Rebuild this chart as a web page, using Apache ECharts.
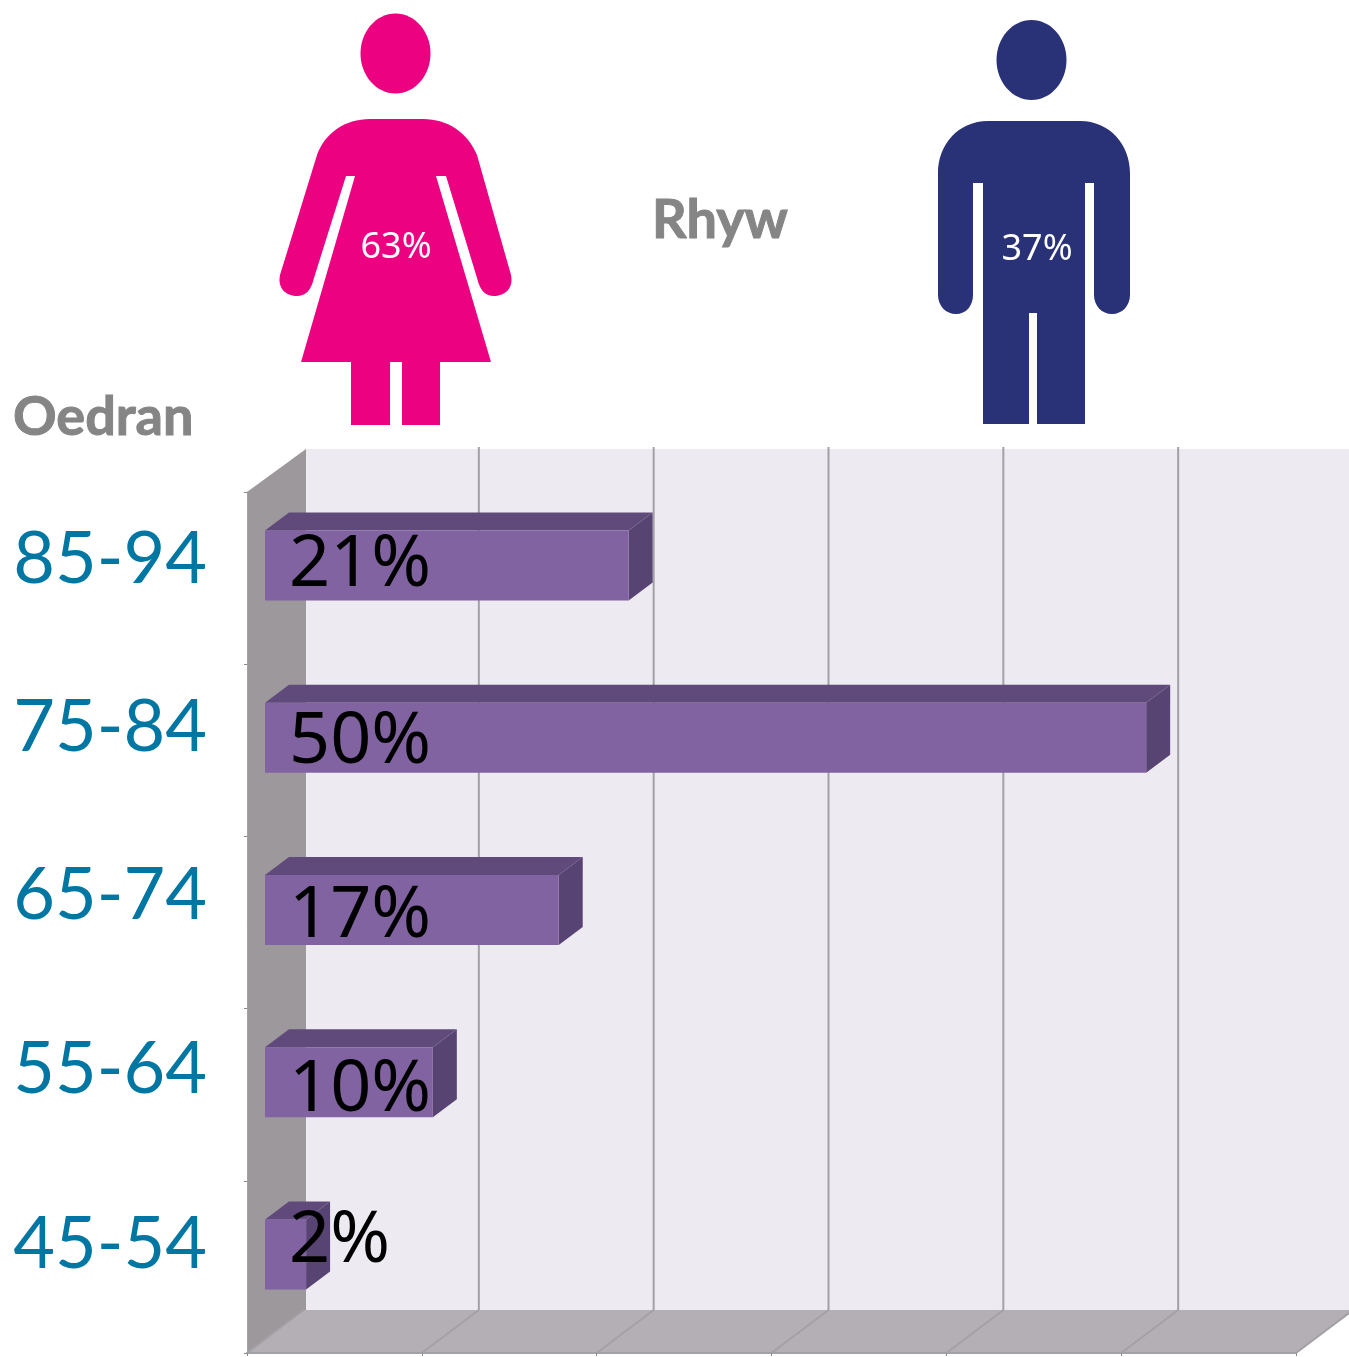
<!DOCTYPE html>
<html>
<head>
<meta charset="utf-8">
<script src="https://cdn.jsdelivr.net/npm/echarts@6/dist/echarts.min.js"></script>
<style>
  html, body { margin: 0; padding: 0; background: #fff; }
  #chart { width: 1349px; height: 1357px; }
</style>
</head>
<body>
<div id="chart"></div>
<script>
// bottom row first, the category axis runs upwards
const ageBands = ['45-54', '55-64', '65-74', '75-84', '85-94']
// bar lengths as measured on the picture, the printed labels are rounded
const barValues = [2.35, 9.6, 16.8, 50.4, 20.8]
const barLabels = ['2%', '10%', '17%', '50%', '21%']
const tickValues = [0, 10, 20, 30, 40, 50, 60]
const genderLabels = ['63%', '37%']

// 3d look of the old chart
const depthX = 59
const depthY = 43
const gridDepthX = 57
const barStartX = 18
const barStartY = 12.5
const barDepthX = 24
const barDepthY = 18
const barHeight = 70
const labelNudge = [-13, 8, 6, 5, 0]
const bandLabelLift = [22, 25, 27, 23, 18]
const font = '"Noto Sans"'

const womanPath = 'M370 119 L423 119 C448 119 468 133 477 155 L511 275 C514 290 503 296 494 296 C486 296 480 291 477 278 ' +
  'L446 176 L436 176 L491 362 L440 362 L440 425 L402 425 L402 362 L390 362 L390 425 L351 425 L351 362 L301 362 ' +
  'L355 176 L346 176 L314 278 C311 291 305 296 297 296 C288 296 277 290 280 275 L317 155 C325 133 345 119 370 119 Z'
const manPath = 'M988 121 L1080 121 C1110 121 1130 145 1130 173 L1130 295 C1130 306 1122 314 1112 314 C1102 314 1094 306 1094 295 ' +
  'L1094 183 L1085 183 L1085 424 L1037 424 L1037 313 L1029 313 L1029 424 L983 424 L983 183 L973 183 L973 295 ' +
  'C973 306 966 314 956 314 C946 314 938 306 938 295 L938 173 C938 145 958 121 988 121 Z'

function renderFigures() {
  return {
    type: 'group',
    children: [
      { type: 'path', shape: { pathData: womanPath }, style: { fill: '#ec0280' } },
      { type: 'path', shape: { pathData: manPath }, style: { fill: '#2a3277' } }
    ]
  }
}

function renderRoom(params) {
  const g = params.coordSys
  const left = g.x
  const right = g.x + g.width
  const top = g.y
  const bottom = g.y + g.height
  return {
    type: 'group',
    children: [
      {
        type: 'polygon',
        shape: { points: [[left + depthX, top - depthY], [right + depthX, top - depthY], [right + depthX, bottom - depthY], [left + depthX, bottom - depthY]] },
        style: { fill: '#edeaf2' }
      },
      {
        type: 'polygon',
        shape: { points: [[left, top], [left + depthX, top - depthY], [left + depthX, bottom - depthY], [left, bottom]] },
        style: { fill: '#9c989c' }
      },
      {
        type: 'polygon',
        shape: { points: [[left, bottom], [left + depthX, bottom - depthY], [right + depthX, bottom - depthY], [right, bottom]] },
        style: { fill: '#b3afb5' }
      }
    ]
  }
}

function renderGridLine(params, api) {
  const g = params.coordSys
  const x = api.coord([api.value(0), 0])[0]
  const bottom = g.y + g.height
  const lineStyle = { stroke: '#a3a0a6', lineWidth: 2, fill: null }
  const children = [{
    type: 'line',
    shape: { x1: x, y1: bottom, x2: x + gridDepthX, y2: bottom - depthY },
    style: lineStyle
  }]
  // the first and last lines are only the room's own edges
  if (api.value(0) > 0 && api.value(0) < 60) {
    children.push({
      type: 'line',
      shape: { x1: x + gridDepthX, y1: bottom - depthY, x2: x + gridDepthX, y2: g.y - depthY - 2 },
      style: lineStyle
    })
  }
  return { type: 'group', children: children }
}

function renderBar(params, api) {
  const idx = api.value(1)
  const end = api.coord([api.value(0), idx])
  const start = api.coord([0, idx])
  const x0 = start[0] + barStartX
  const x1 = end[0] + barStartX
  const y0 = end[1] - barStartY - barHeight / 2
  const y1 = y0 + barHeight
  return {
    type: 'group',
    children: [
      {
        type: 'polygon',
        shape: { points: [[x0, y0], [x0 + barDepthX, y0 - barDepthY], [x1 + barDepthX, y0 - barDepthY], [x1, y0]] },
        style: { fill: '#604a7b' }
      },
      {
        type: 'polygon',
        shape: { points: [[x1, y0], [x1 + barDepthX, y0 - barDepthY], [x1 + barDepthX, y1 - barDepthY], [x1, y1]] },
        style: { fill: '#584473' }
      },
      {
        type: 'rect',
        shape: { x: x0, y: y0, width: x1 - x0, height: barHeight },
        style: { fill: '#8263a1' }
      }
    ]
  }
}

function renderBarLabel(params, api) {
  const idx = api.value(1)
  const start = api.coord([0, idx])
  return {
    type: 'text',
    style: {
      text: barLabels[idx],
      x: start[0] + 42,
      y: start[1] - barStartY + labelNudge[idx],
      font: '72px ' + font,
      fill: '#000',
      textAlign: 'left',
      textVerticalAlign: 'middle'
    }
  }
}

const barData = barValues.map((v, i) => [v, i])
// the printed age labels sit a little above their bands, not by the same amount
const bandData = ageBands.map((name, i) => ({
  value: name,
  textStyle: { verticalAlign: 'bottom', lineHeight: 2 * bandLabelLift[i] }
}))

const chart = echarts.init(document.getElementById('chart'))
chart.setOption({
  animation: false,
  backgroundColor: '#fff',
  grid: { left: 247, top: 492, width: 1049, height: 861 },
  xAxis: {
    type: 'value',
    min: 0,
    max: 60,
    interval: 10,
    axisLine: { show: true, lineStyle: { color: '#a3a0a6', width: 2 } },
    axisTick: { show: true, length: 3, lineStyle: { color: '#8a878c' } },
    axisLabel: { show: false },
    splitLine: { show: false }
  },
  yAxis: {
    type: 'category',
    data: bandData,
    axisLine: { show: true, lineStyle: { color: '#a3a0a6' } },
    axisTick: { show: true, length: 3, lineStyle: { color: '#8a878c' } },
    axisLabel: {
      color: '#0076a3',
      fontFamily: 'Lato',
      fontSize: 72,
      margin: 40
    }
  },
  series: [
    { type: 'custom', coordinateSystem: 'none', renderItem: renderFigures, data: [[0]], silent: true },
    { type: 'custom', renderItem: renderRoom, data: [[0, 0]], encode: { x: 0, y: 1 }, silent: true, z: 0 },
    { type: 'custom', renderItem: renderGridLine, data: tickValues.map(v => [v, 0]), encode: { x: 0, y: 1 }, silent: true, z: 1 },
    { type: 'custom', name: 'Oedran', renderItem: renderBar, data: barData, encode: { x: 0, y: 1 }, z: 2 },
    { type: 'custom', renderItem: renderBarLabel, data: barData, encode: { x: 0, y: 1 }, silent: true, z: 3 }
  ],
  graphic: [
    { type: 'ellipse', shape: { cx: 395.5, cy: 53.5, rx: 35, ry: 40 }, style: { fill: '#ec0280' } },
    { type: 'ellipse', shape: { cx: 1031.5, cy: 60, rx: 35, ry: 40 }, style: { fill: '#2a3277' } },
    { type: 'text', x: 396, y: 248, z: 10, style: { text: genderLabels[0], font: '36px ' + font, fill: '#fff', textAlign: 'center', textVerticalAlign: 'middle' } },
    { type: 'text', x: 1037, y: 250, z: 10, style: { text: genderLabels[1], font: '36px ' + font, fill: '#fff', textAlign: 'center', textVerticalAlign: 'middle' } },
    { type: 'text', x: 720, y: 221, style: { text: 'Rhyw', font: 'bold 54px Lato', fill: '#858585', stroke: '#858585', lineWidth: 1, textAlign: 'center', textVerticalAlign: 'middle' } },
    { type: 'text', x: 13, y: 418, style: { text: 'Oedran', font: 'bold 54px Lato', fill: '#858585', stroke: '#858585', lineWidth: 1, textAlign: 'left', textVerticalAlign: 'middle' } }
  ]
})
</script>
</body>
</html>
